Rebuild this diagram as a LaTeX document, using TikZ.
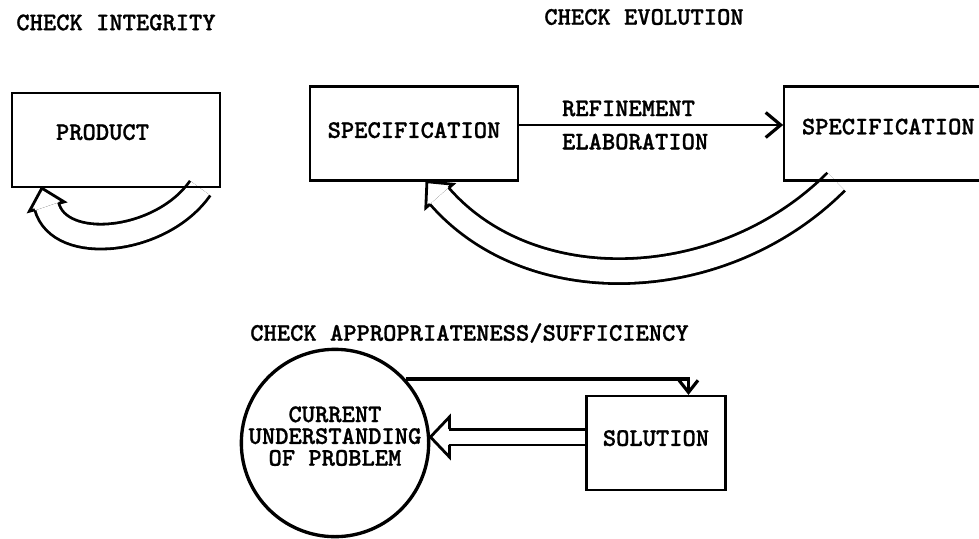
\documentclass[tikz,border=0pt]{standalone}
\usepackage{fontspec}
\newfontfamily\typew{lmmonolt10-bold.otf}[FakeBold=1]
\usetikzlibrary{positioning,calc,arrows.meta,backgrounds,decorations.markings}

\begin{document}
\begin{tikzpicture}[
  font=\typew\fontsize{14.4}{12.4}\selectfont,
  box/.style={draw,line width=1.3pt,minimum width=4.16cm,minimum height=1.88cm},
  circ/.style={draw,circle,line width=1.9pt,minimum size=3.72cm,align=center,inner sep=0pt},
  heading/.style={inner sep=0pt},
  lbl/.style={inner sep=4.5pt},
  flow/.style={line width=0.8pt,-{Straight Barb[length=3mm,width=5mm,line width=1.8pt]}},
  feed/.style={line width=2pt,-{Straight Barb[length=2.4mm,width=3.8mm,line width=1.8pt]}},
  hollow/.style 2 args={double,line width=1.6pt,double distance=#1,shorten >=3.8mm,
    postaction={decorate,decoration={markings,mark=at position -0.05pt with {
      \draw[line width=1.6pt,shorten >=0pt,line join=miter]
        (-3.8mm,{#1/2+0.8pt}) -- (-3.8mm,#2) -- (0,0) -- (-3.8mm,-#2) -- (-3.8mm,{-#1/2-0.8pt});}}}}]

  \useasboundingbox (0,0) rectangle (19.58,10.76);

  % check integrity
  \node[box,text depth=3.2mm] (prod) at (2.32,7.96) {PRODUCT\hspace*{5.4mm}};
  \node[heading,above=1.22cm of prod] (integ) {CHECK INTEGRITY};

  % check evolution
  \node[box,text depth=1.4mm] (spec1) at (8.28,8.09) {SPECIFICATION};
  \node[box,text depth=2.8mm,right=5.28cm of spec1] (spec2) {SPECIFICATION};
  \node[heading] (evol) at (12.88,10.42) {CHECK EVOLUTION};

  \draw[flow] ([yshift=1.7mm]spec1.east) -- ([yshift=1.7mm]spec1.east -| spec2.west)
    node[lbl,pos=.13,above right] {REFINEMENT}
    node[lbl,pos=.13,below right] {ELABORATION};

  % check appropriateness
  \node[circ] (cur) at (6.70,1.90) {CURRENT\\UNDERSTANDING\\OF PROBLEM\rule[-2.8mm]{0pt}{0pt}};
  \node[box,minimum width=2.78cm,text depth=2mm,right=3.1cm of cur] (sol) {SOLUTION};
  \node[heading] (approp) at (9.39,4.10) {CHECK APPROPRIATENESS/SUFFICIENCY};

  \draw[feed] (cur.42) -| ([xshift=6.5mm]sol.north);

  % hollow arrows go behind the boxes
  \begin{scope}[on background layer]
    \draw[hollow={4.4mm}{3.6mm}] ($(prod.south east)+(-0.42,0)$) to[out=235,in=285,looseness=1.1] ($(prod.south west)+(0.62,0)$);
    \draw[hollow={4.4mm}{3.6mm}] ($(spec2.south west)+(1.06,0)$) to[out=225,in=311] ($(spec1.south west)+(2.36,0)$);
    \draw[hollow={2.6mm}{4mm}] ([yshift=1.2mm]cur.east -| sol.west) -- ([yshift=1.2mm]cur.east);
  \end{scope}
\end{tikzpicture}
\end{document}
